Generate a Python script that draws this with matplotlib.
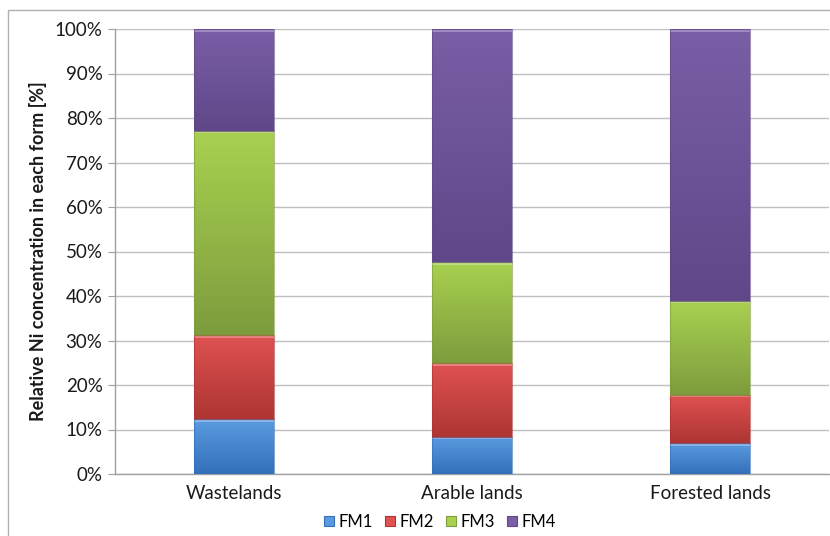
import numpy as np
import matplotlib
matplotlib.use("Agg")
import matplotlib.pyplot as plt
from matplotlib.colors import LinearSegmentedColormap, to_rgb
from matplotlib.patches import Rectangle

plt.rcParams['font.family'] = ['Lato', 'DejaVu Sans']

categories = ["Wastelands", "Arable lands", "Forested lands"]
series_names = ["FM1", "FM2", "FM3", "FM4"]
fm1 = [12.3, 8.4, 6.9]
fm2 = [18.9, 16.5, 10.9]
fm3 = [45.9, 22.7, 21.1]
fm4 = [22.9, 52.4, 61.1]
y_ticks = [0, 10, 20, 30, 40, 50, 60, 70, 80, 90, 100]
y_tick_labels = [f"{t}%" for t in y_ticks]

# light (top) and dark (bottom) shades for each series
shades = {
    "FM1": ("#5a9be0", "#3470bb"),
    "FM2": ("#e05252", "#ad3533"),
    "FM3": ("#a9d150", "#7d9c3d"),
    "FM4": ("#7a5ea6", "#5f4789"),
}

fig = plt.figure(figsize=(8.3, 5.36), dpi=100)
ax = fig.add_axes([115 / 830, 1 - 474 / 536, 714 / 830, 445 / 536])

series = [fm1, fm2, fm3, fm4]
x = np.arange(len(categories))
width = 0.336
bottom = np.zeros(len(categories))
grad = np.linspace(0, 1, 256).reshape(-1, 1)

for name, vals in zip(series_names, series):
    light, dark = shades[name]
    cmap = LinearSegmentedColormap.from_list(name, [dark, light])
    bars = ax.bar(x, vals, width, bottom=bottom, color=light, edgecolor="none",
                  zorder=2, label=name)
    for b in bars:
        x0, y0, w, h = b.get_x(), b.get_y(), b.get_width(), b.get_height()
        im = ax.imshow(grad, cmap=cmap, aspect="auto", origin="lower",
                       extent=(x0, x0 + w, y0, y0 + h), zorder=3,
                       interpolation="bilinear")
        im.set_clip_path(b)
        # thin highlight along the top edge and darker outline
        ax.plot([x0, x0 + w], [y0 + h - 0.35, y0 + h - 0.35],
                color=(1, 1, 1, 0.35), lw=1.2, zorder=4, solid_capstyle="butt")
        ax.add_patch(Rectangle((x0, y0), w, h, fill=False,
                               edgecolor=tuple(list(to_rgb(dark)) + [0.6]),
                               lw=0.8, zorder=4))
    bottom += np.array(vals)

ax.set_xlim(-0.5, 2.5)
ax.set_ylim(0, 100)
ax.set_yticks(y_ticks)
ax.set_yticklabels(y_tick_labels)
ax.set_xticks(x)
ax.set_xticklabels(categories)
ax.tick_params(axis="y", length=5, color="#a0a0a0", labelsize=13.5,
               labelcolor="#1a1a1a", pad=4)
ax.tick_params(axis="x", length=0, labelsize=13.5, labelcolor="#1a1a1a", pad=8)
ax.grid(axis="y", color="#c0c0c0", lw=1.0, zorder=0)
ax.set_axisbelow(True)
for s in ["top", "right"]:
    ax.spines[s].set_visible(False)
for s in ["left", "bottom"]:
    ax.spines[s].set_color("#a0a0a0")
    ax.spines[s].set_linewidth(1.0)

ax.set_ylabel("Relative Ni concentration in each form [%]", fontsize=13,
              fontweight="bold", color="#1a1a1a")
ax.yaxis.set_label_coords(-0.095, 0.5)

handles = [Rectangle((0, 0), 1, 1, facecolor=shades[n][0],
                     edgecolor=shades[n][1], lw=0.8) for n in series_names]
fig.legend(handles, series_names, loc="center", bbox_to_anchor=(440 / 830, 1 - 522 / 536),
           ncol=4, frameon=False, fontsize=12, handlelength=0.6, handleheight=0.6,
           handletextpad=0.3, columnspacing=0.7, borderpad=0)

# outer chart border
fig.patches.append(Rectangle((8 / 830, -0.1), 1.1, 1 - 10 / 536 + 0.1,
                             transform=fig.transFigure, fill=False,
                             edgecolor="#b0b0b0", lw=1.0))

fig.savefig("out.png", dpi=100)
